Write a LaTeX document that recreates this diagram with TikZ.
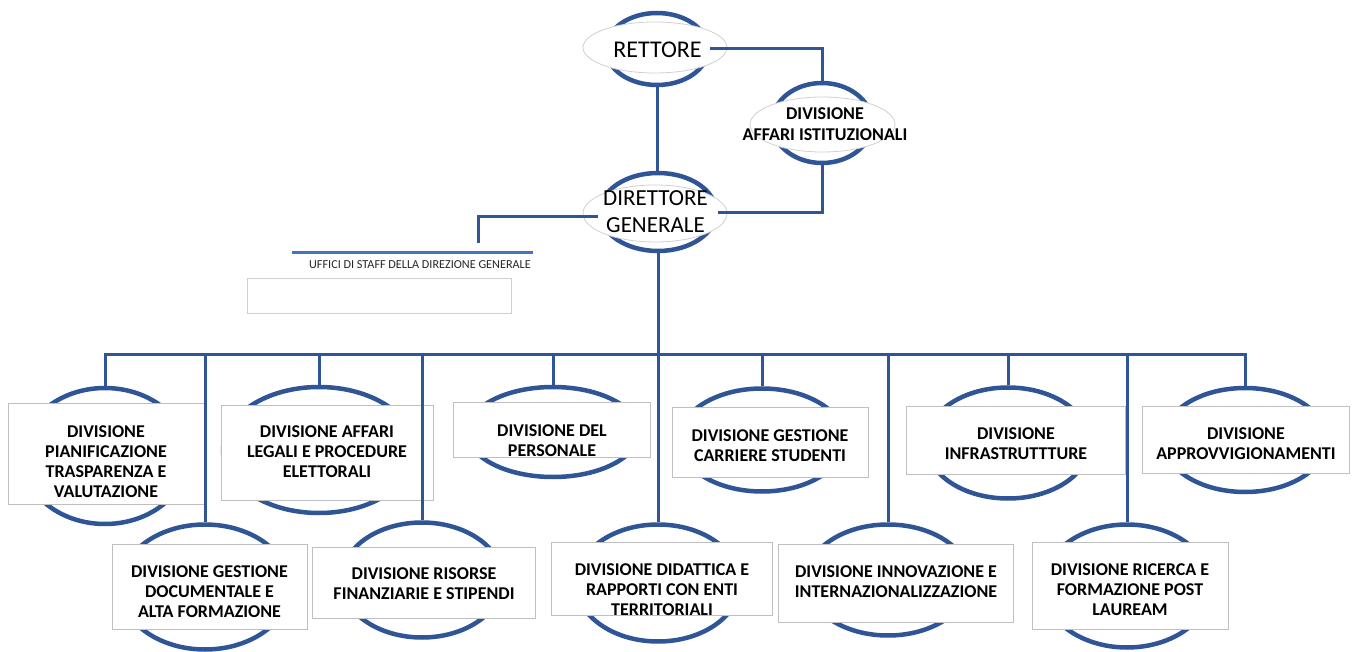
\documentclass[tikz,border=0pt]{standalone}
\usepackage{fontspec}
\setmainfont{Carlito}
\usetikzlibrary{shapes.geometric}
\definecolor{orgblue}{HTML}{2F5597}
\definecolor{staffblue}{HTML}{4472C4}
\definecolor{rectgrey}{HTML}{BFBFBF}
\definecolor{ovalgrey}{HTML}{D0D0D0}
\begin{document}
\begin{tikzpicture}[x=1pt,y=-1pt,
  blueoval/.style={ellipse, draw=orgblue, line width=4.5pt, fill=white, inner sep=0pt},
  greyoval/.style={ellipse, draw=ovalgrey, line width=0.8pt, fill=white, inner sep=0pt},
  divbox/.style={rectangle, draw=rectgrey, line width=1pt, fill=white, inner sep=0pt},
  divtext/.style={font=\bfseries\fontsize{18}{20}\selectfont, align=center, inner sep=0pt, text=black},
  toptext/.style={font=\fontsize{24}{27}\selectfont, align=center, inner sep=0pt, text=black},
  daitext/.style={font=\bfseries\fontsize{18}{21}\selectfont, align=center, inner sep=0pt, text=black},
  link/.style={draw=orgblue, line width=3pt},
  staffline/.style={draw=staffblue, line width=3pt},
  stafftext/.style={font=\fontsize{12.2}{14}\selectfont, inner sep=0pt, text=black!85},
  staffbox/.style={rectangle, draw=ovalgrey, line width=1pt, fill=white, inner sep=0pt}
]
\useasboundingbox (0,0) rectangle (1353,652);

% ---- top level
\node[blueoval, minimum width=102pt, minimum height=72pt] (rett) at (657,49) {};
\node[greyoval, minimum width=144pt, minimum height=51pt] (rettG) at (655,47.5) {};
\node[toptext] (rettT) at (657.5,50) {RETTORE};

\node[blueoval, minimum width=100pt, minimum height=80pt] (dai) at (822,123) {};
\node[greyoval, minimum width=145pt, minimum height=55pt] (daiG) at (822.5,124.5) {};
\node[daitext] (daiT) at (825,124.5) {DIVISIONE\\AFFARI ISTITUZIONALI};

\node[blueoval, minimum width=116pt, minimum height=78pt] (dg) at (658,212) {};
\node[greyoval, minimum width=144pt, minimum height=57pt] (dgG) at (655,213.5) {};
\node[toptext, font=\fontsize{23}{27}\selectfont] (dgT) at (655.5,211.5) {DIRETTORE\\GENERALE};

% ---- staff
\coordinate (stafft) at (478,243);
\coordinate (staffL) at (292,253);
\coordinate (staffR) at (533,253);
\draw[staffline] (staffL) -- (staffR);
\node[stafftext] (staffT) at (420,265) {UFFICI DI STAFF DELLA DIREZIONE GENERALE};
\node[staffbox, minimum width=264pt, minimum height=35pt] (staffB) at (379,296.5) {};

% ---- divisions: ellipses
\node[blueoval, minimum width=166pt, minimum height=136pt] (pian) at (105,456) {};
\node[blueoval, minimum width=170pt, minimum height=125pt] (doc) at (205,587) {};
\node[blueoval, minimum width=192pt, minimum height=126pt] (al) at (319,450) {};
\node[blueoval, minimum width=162pt, minimum height=115pt] (ris) at (422,580) {};
\node[blueoval, minimum width=172pt, minimum height=90pt] (pers) at (553,432) {};
\node[blueoval, minimum width=164pt, minimum height=117pt] (did) at (658,583) {};
\node[blueoval, minimum width=166pt, minimum height=103pt] (carr) at (762,440) {};
\node[blueoval, minimum width=164pt, minimum height=111pt] (inn) at (888,580) {};
\node[blueoval, minimum width=164pt, minimum height=111pt] (infra) at (1008,443) {};
\node[blueoval, minimum width=168pt, minimum height=123pt] (ric) at (1127,586) {};
\node[blueoval, minimum width=164pt, minimum height=104pt] (appr) at (1245,440) {};

% ---- divisions: boxes
\node[divbox, minimum width=196pt, minimum height=100pt] (pianR) at (106,454) {};
\node[divbox, minimum width=195pt, minimum height=85pt] (docR) at (209.5,586.5) {};
\node[divbox, minimum width=212pt, minimum height=94pt] (alR) at (327,453) {};
\node[divbox, minimum width=223pt, minimum height=71pt] (risR) at (423.5,582.5) {};
\node[divbox, minimum width=197pt, minimum height=54pt] (persR) at (551.5,430) {};
\node[divbox, minimum width=221pt, minimum height=73pt] (didR) at (661.5,578.5) {};
\node[divbox, minimum width=196pt, minimum height=69pt] (carrR) at (770,442.5) {};
\node[divbox, minimum width=235pt, minimum height=78pt] (innR) at (895.5,583) {};
\node[divbox, minimum width=219pt, minimum height=67pt] (infraR) at (1015.5,440.5) {};
\node[divbox, minimum width=196pt, minimum height=87pt] (ricR) at (1130,585.5) {};
\node[divbox, minimum width=207pt, minimum height=66pt] (apprR) at (1245.5,440) {};

% ---- divisions: texts
\node[divtext] (pianT) at (106,461.5) {DIVISIONE\\PIANIFICAZIONE\\TRASPARENZA E\\VALUTAZIONE};
\node[divtext] (docT) at (209.5,592) {DIVISIONE GESTIONE\\DOCUMENTALE E\\ALTA FORMAZIONE};
\node[divtext] (alT) at (327,452) {DIVISIONE AFFARI\\LEGALI E PROCEDURE\\ELETTORALI};
\node[divtext] (risT) at (424,583.5) {DIVISIONE RISORSE\\FINANZIARIE E STIPENDI};
\node[divtext] (persT) at (552,441) {DIVISIONE DEL\\PERSONALE};
\node[divtext] (didT) at (662,589.5) {DIVISIONE DIDATTICA E\\RAPPORTI CON ENTI\\TERRITORIALI};
\node[divtext] (carrT) at (770,446) {DIVISIONE GESTIONE\\CARRIERE STUDENTI};
\node[divtext] (innT) at (896,582) {DIVISIONE INNOVAZIONE E\\INTERNAZIONALIZZAZIONE};
\node[divtext] (infraT) at (1016,444) {DIVISIONE\\INFRASTRUTTTURE};
\node[divtext] (ricT) at (1130,589.5) {DIVISIONE RICERCA E\\FORMAZIONE POST\\LAUREAM};
\node[divtext] (apprT) at (1246,444) {DIVISIONE\\APPROVVIGIONAMENTI};

% ---- connectors
\coordinate (bus) at (658,355);
\draw[link] (rett.east) -| (dai.north);
\draw[link] (rett.south) -- (rett.south |- dg.north);
\draw[link] ([yshift=-1pt]dg.east) -| (dai.south);
\draw[link] ([yshift=-5pt]dg.west) -| (stafft);
\draw[link] (dg.south) -- (did.north);
\draw[link] (pian.north) -- (pian.north |- bus) -- (appr.north |- bus) -- (appr.north);
\foreach \n in {doc,al,ris,pers,carr,inn,infra,ric}
  \draw[link] (\n.north |- bus) -- (\n.north);
\end{tikzpicture}
\end{document}
